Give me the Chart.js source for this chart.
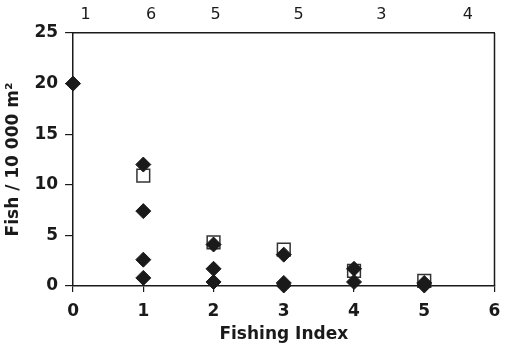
<!DOCTYPE html>
<html>
<head>
<meta charset="utf-8">
<script src="https://cdn.jsdelivr.net/npm/chart.js@4/dist/chart.umd.min.js"></script>
<style>
html,body{margin:0;padding:0;background:#fff;}
#wrap{width:505px;height:347px;}
</style>
</head>
<body>
<div id="wrap"><canvas id="c" width="505" height="347"></canvas></div>
<script>
// Individual samples (filled diamonds)
const sampleX = [0, 1, 1, 1, 1, 2, 2, 2, 3, 3, 3, 4, 4, 5, 5];
const sampleY = [20, 12.0, 7.4, 2.6, 0.8, 4.1, 1.7, 0.4, 3.1, 0.3, 0.05, 1.7, 0.4, 0.3, 0.05];
// Means (open squares)
const meanX = [1, 2, 3, 4, 5];
const meanY = [10.9, 4.3, 3.6, 1.5, 0.5];
// Sample counts shown along the top
const countLabels = ['1', '6', '5', '5', '3', '4'];
const countPos = [0.18, 1.11, 2.03, 3.21, 4.39, 5.62];
const yTicks = [0, 5, 10, 15, 20, 25];
const xTicks = [0, 1, 2, 3, 4, 5, 6];

const ink = '#1a1a1a';
const boldFam = '"DejaVu Sans", "Liberation Sans", Arial, sans-serif';
const topFam = '"DejaVu Sans", "Liberation Sans", Arial, sans-serif';

// right-hand frame line of the plot box
const rightFrame = {
  id: 'rightFrame',
  afterDraw(chart) {
    const {ctx, chartArea} = chart;
    ctx.save();
    ctx.strokeStyle = ink;
    ctx.lineWidth = 1.5;
    ctx.beginPath();
    ctx.moveTo(chartArea.right, chartArea.top);
    ctx.lineTo(chartArea.right, chartArea.bottom);
    ctx.stroke();
    ctx.restore();
  }
};

const hPad = a => { a.paddingLeft = 0; a.paddingRight = 3; };
const vPad = a => { a.paddingTop = 0; a.paddingBottom = 0; };

new Chart(document.getElementById('c'), {
  type: 'scatter',
  data: {
    datasets: [
      {
        label: 'samples',
        data: sampleX.map((x, i) => ({x: x, y: sampleY[i]})),
        pointStyle: 'rectRot',
        pointRadius: 7.5,
        backgroundColor: ink,
        borderColor: ink,
        borderWidth: 1,
        clip: false,
        order: 0
      },
      {
        label: 'mean',
        data: meanX.map((x, i) => ({x: x, y: meanY[i]})),
        pointStyle: 'rect',
        pointRadius: 9,
        backgroundColor: '#fff',
        borderColor: '#333',
        borderWidth: 1.5,
        clip: false,
        order: 1
      }
    ]
  },
  plugins: [rightFrame],
  options: {
    responsive: false,
    animation: false,
    events: [],
    layout: {padding: {left: 3, right: -4, top: -3, bottom: 4}},
    plugins: {legend: {display: false}, tooltip: {enabled: false}},
    scales: {
      x: {
        type: 'linear', position: 'bottom', min: 0, max: 6,
        afterBuildTicks: a => { a.ticks = xTicks.map(v => ({value: v})); },
        afterFit: hPad,
        grid: {display: true, drawOnChartArea: false, drawTicks: true, tickLength: 6, color: ink, lineWidth: 1.2},
        border: {display: true, color: ink, width: 1.5},
        ticks: {color: ink, font: {family: boldFam, size: 17, weight: 'bold', lineHeight: 1}, padding: 11, maxRotation: 0, autoSkip: false},
        title: {display: true, text: 'Fishing Index', color: ink, font: {family: boldFam, size: 17, weight: 'bold', lineHeight: 1}, padding: {top: -5, bottom: 0}}
      },
      x2: {
        type: 'linear', position: 'top', min: 0, max: 6,
        afterBuildTicks: a => { a.ticks = countPos.map(v => ({value: v})); },
        afterFit: hPad,
        grid: {display: true, drawOnChartArea: false, drawTicks: false, tickLength: 0},
        border: {display: true, color: ink, width: 1.5},
        ticks: {color: ink, font: {family: topFam, size: 16, lineHeight: 1}, padding: 10, maxRotation: 0, autoSkip: false,
          callback: (v, i) => countLabels[i]}
      },
      y: {
        type: 'linear', position: 'left', min: 0, max: 25,
        afterBuildTicks: a => { a.ticks = yTicks.map(v => ({value: v})); },
        afterFit: vPad,
        grid: {display: true, drawOnChartArea: false, drawTicks: true, tickLength: 8, color: ink, lineWidth: 1.2},
        border: {display: true, color: ink, width: 1.5},
        ticks: {color: ink, font: {family: boldFam, size: 17, weight: 'bold'}, padding: 7, autoSkip: false},
        title: {display: true, text: 'Fish / 10 000 m\u00B2', color: ink, font: {family: boldFam, size: 17, weight: 'bold'}, padding: {top: 0, bottom: 4}}
      }
    }
  }
});
</script>
</body>
</html>
